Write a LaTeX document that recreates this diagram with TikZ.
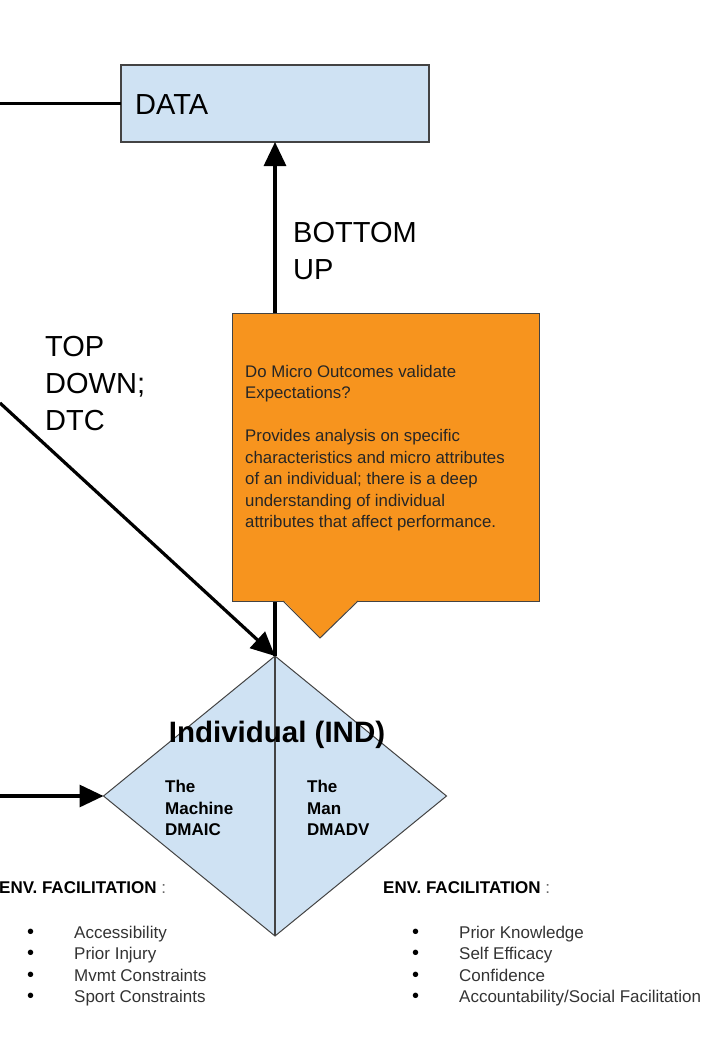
\documentclass[tikz,border=0pt]{standalone}
\usepackage{fontspec}
\setmainfont{Liberation Sans}
\usepackage{tikz}
\usetikzlibrary{arrows.meta,shapes.geometric}

\definecolor{datablue}{HTML}{CFE2F3}
\definecolor{noteorange}{HTML}{F7941E}
\definecolor{boxgray}{HTML}{434343}

\tikzset{
  box/.style={draw=boxgray, line width=1.2pt, fill=datablue, inner sep=0pt, outer sep=0pt},
  link/.style={line width=3.2pt},
  arr/.style={link, -{Triangle[length=24pt,width=22pt]}},
  big/.style={font=\fontsize{29}{37}\selectfont, inner sep=0pt, align=left},
  small/.style={font=\fontsize{16.8}{21.5}\selectfont, inner sep=0pt, align=left, text=black!85},
  half/.style={font=\fontsize{17}{21.5}\selectfont\bfseries, inner sep=0pt, align=left, anchor=north west},
  item/.style={font=\fontsize{17}{21.5}\selectfont, inner sep=0pt, anchor=base west, text=black!80},
  envlabel/.style={font=\fontsize{17}{20}\selectfont, inner sep=0pt, anchor=base west}
}
\newcommand{\dotmark}{\textcolor{black}{\fontsize{20}{20}\selectfont\textbullet}}

\begin{document}
\begin{tikzpicture}[x=1pt,y=-1pt]
\useasboundingbox (0,0) rectangle (720,1050);

    \node[box, minimum width=308pt, minimum height=77pt] (data) at (275,103.5) {};
    \node[big, anchor=base west] (datalabel) at (135,114) {DATA};
    \node[box, diamond, line width=1pt, minimum width=343pt, minimum height=280pt] (ind) at (275,796) {};

    \coordinate (topin) at (0,103.5);
    \coordinate (topdown) at (0,403);
    \coordinate (leftin) at (0,796);

    % connectors
    \draw[link] (topin) -- (data.west);
    \draw[arr] (topdown) -- (ind.north);
    \draw[arr] (leftin) -- (ind.west);
    \draw[arr] (ind.north) -- (data.south);
    \draw[boxgray, line width=1.2pt] (ind.north) -- (ind.south);

    \node[big, anchor=north west] (bottomup) at (293,222) {BOTTOM\\UP};
    \node[big, anchor=north west] (topdownlabel) at (45,336) {TOP\\DOWN;\\DTC};

    % callout
    \node[draw=boxgray, line width=1pt, fill=noteorange, outer sep=0pt, minimum width=307pt, minimum height=288pt] (note) at (385.5,457) {};
    \fill[noteorange] ([xshift=51pt,yshift=1pt]note.south west) -- ([xshift=88pt,yshift=-37pt]note.south west) -- ([xshift=126pt,yshift=1pt]note.south west) -- cycle;
    \draw[boxgray, line width=1pt] ([xshift=51pt]note.south west) -- ([xshift=88pt,yshift=-37pt]note.south west) -- ([xshift=126pt]note.south west);
    \node[small, anchor=north west] (notetext) at (245,365) {Do Micro Outcomes validate\\Expectations?\\[21.5pt]Provides analysis on specific\\characteristics and micro attributes\\of an individual; there is a deep\\understanding of individual\\attributes that affect performance.};

    \node[font=\fontsize{29.5}{34}\selectfont\bfseries, inner sep=0pt, anchor=base] (indlabel) at (277,742) {Individual (IND)};
    \node[half] (machine) at (165,780) {The\\Machine\\DMAIC};
    \node[half] (man) at (307,780) {The\\Man\\DMADV};

    % environment lists
    \node[envlabel] (envleft) at (-1,893) {\textbf{ENV. FACILITATION} \textcolor{black!60}{:}};
    \node[envlabel] (envright) at (383,893) {\textbf{ENV. FACILITATION} \textcolor{black!60}{:}};
    \foreach \txt [count=\i] in {Accessibility, Prior Injury, Mvmt Constraints, Sport Constraints}
        \node[item] (left\i) at (27,916.5+21.5*\i) {\makebox[47pt][l]{\dotmark}\txt};
    \foreach \txt [count=\i] in {Prior Knowledge, Self Efficacy, Confidence, Accountability/Social Facilitation}
        \node[item] (right\i) at (412,916.5+21.5*\i) {\makebox[47pt][l]{\dotmark}\txt};
\end{tikzpicture}
\end{document}
